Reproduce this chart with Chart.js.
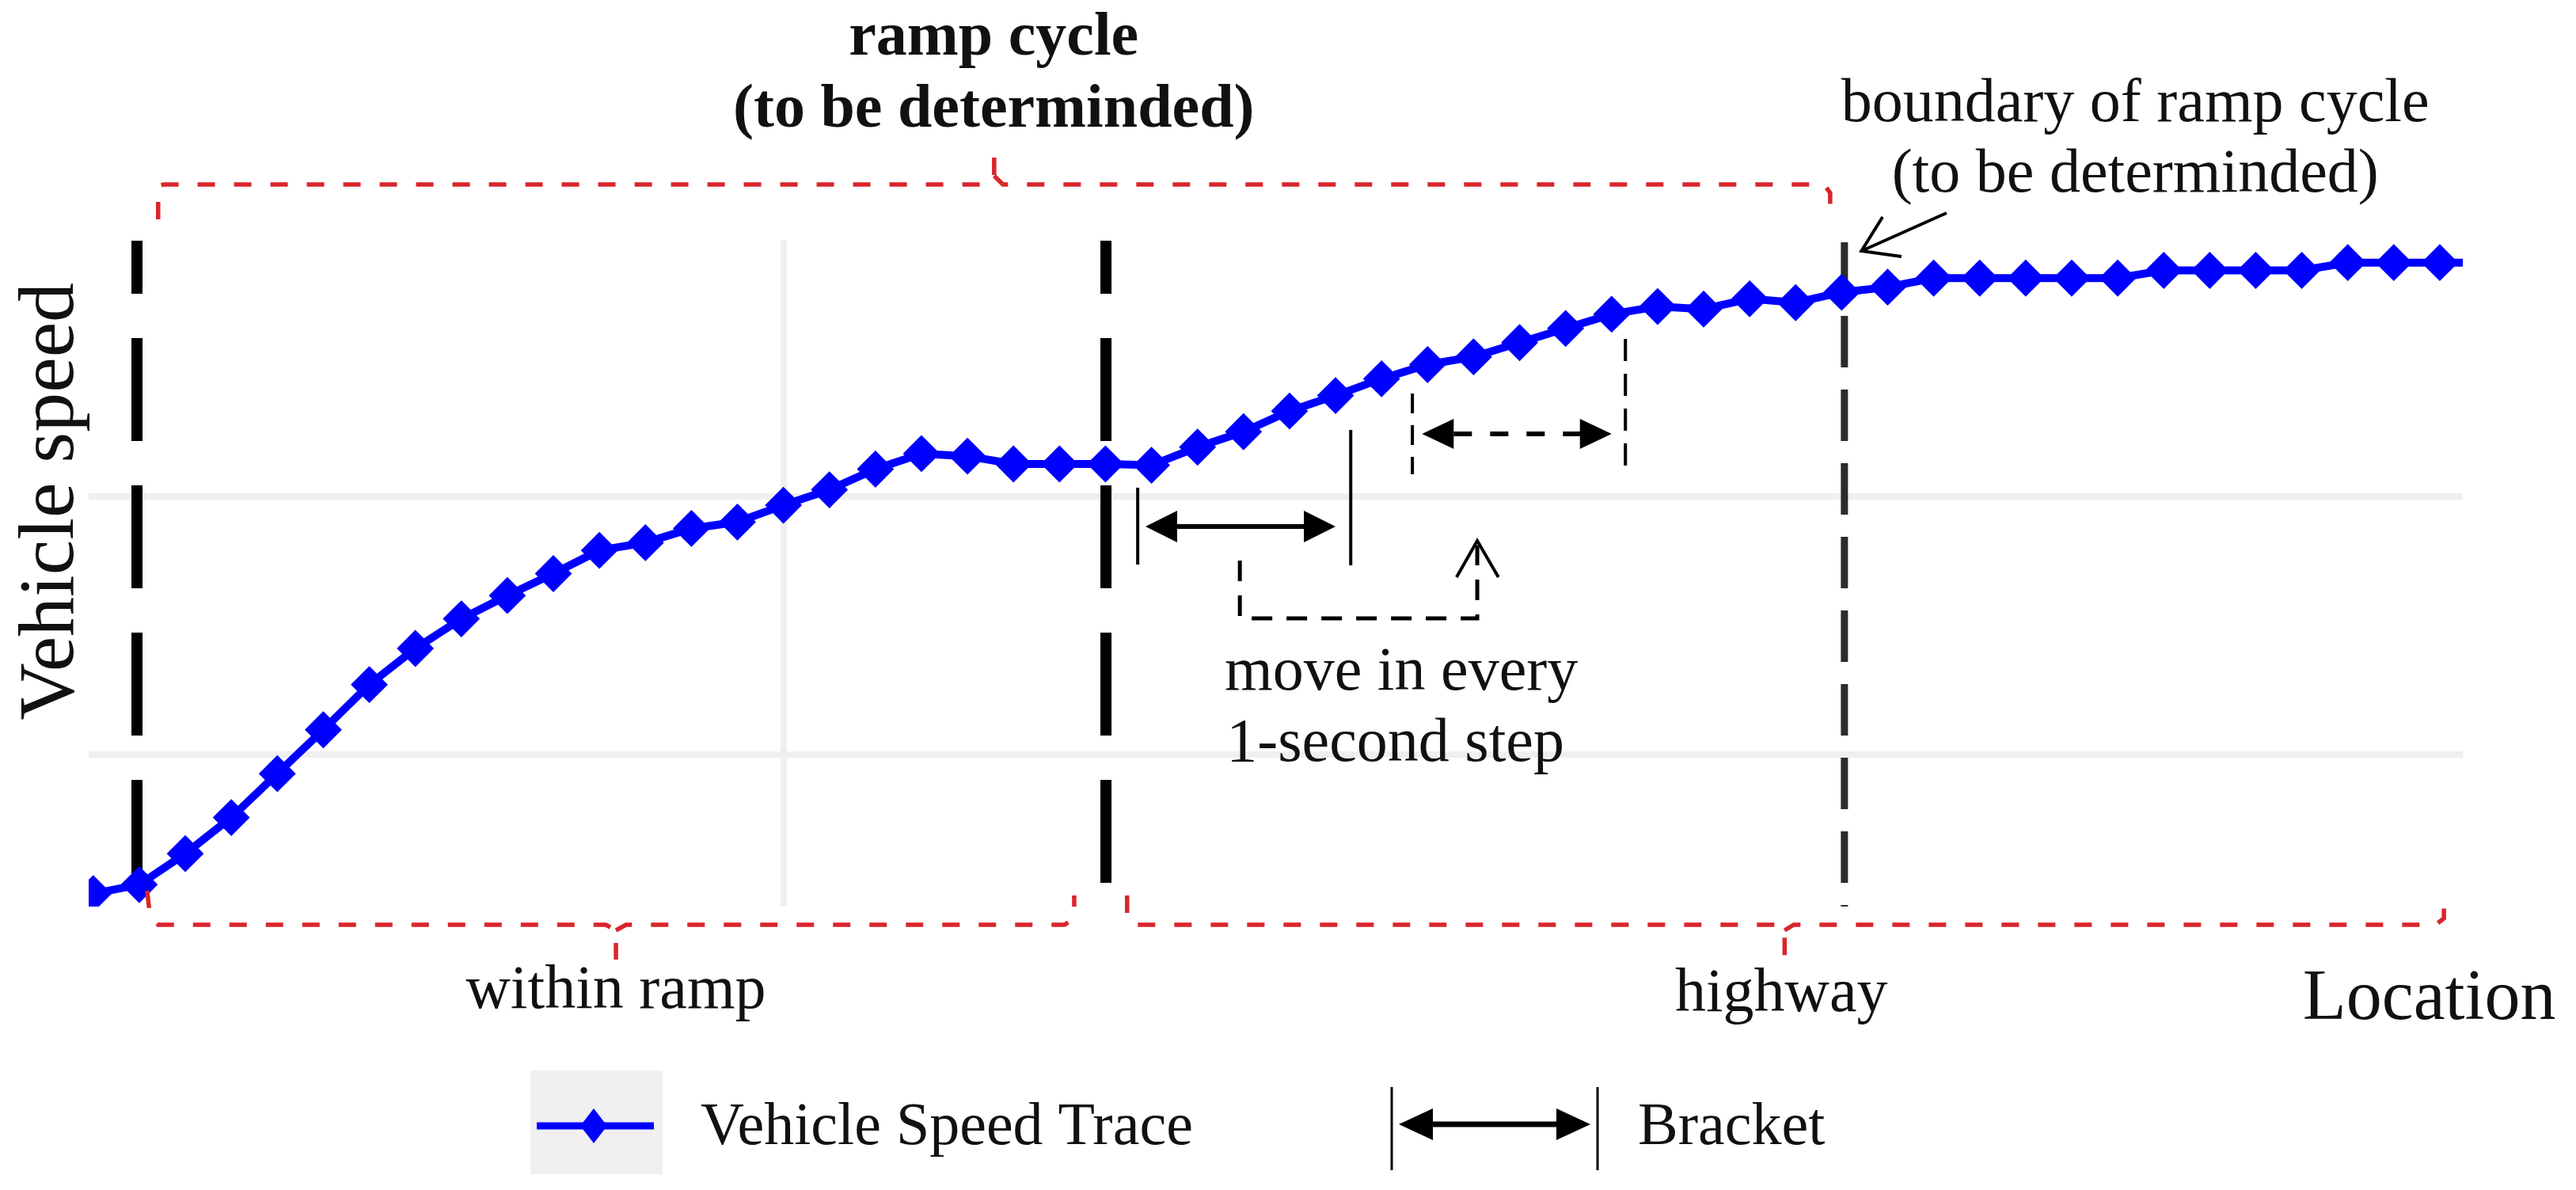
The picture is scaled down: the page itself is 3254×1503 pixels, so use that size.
<!DOCTYPE html>
<html>
<head>
<meta charset="utf-8">
<script src="https://cdn.jsdelivr.net/npm/chart.js@4.4.1/dist/chart.umd.min.js"></script>
<style>
html,body{margin:0;padding:0;background:#fff;}
#wrap{width:3254px;height:1503px;position:relative;}
</style>
</head>
<body>
<div id="wrap"><canvas id="c" width="3254" height="1503"></canvas></div>
<script>
// ---- data (location index = 1-second steps) ----
const locations = [0,1,2,3,4,5,6,7,8,9,10,11,12,13,14,15,16,17,18,19,20,21,22,23,24,25,26,27,28,29,30,31,32,33,34,35,36,37,38,39,40,41,42,43,44,45,46,47,48,49,50,51,52];
const speeds = [9.2,9.9,12.3,15.1,18.5,21.9,25.4,28.2,30.5,32.3,34.0,35.8,36.4,37.5,38.0,39.3,40.5,42.1,43.3,43.1,42.5,42.5,42.5,42.4,43.8,45.0,46.6,47.8,49.1,50.2,50.8,51.9,53.0,54.1,54.7,54.5,55.3,55.0,55.8,56.2,56.9,56.9,56.9,56.9,56.9,57.5,57.5,57.5,57.5,58.1,58.1,58.1,58.1];
const xGridValues = [15];
const yGridValues = [20, 40];
const seriesLabel = 'Vehicle Speed Trace';
const bracketLabel = 'Bracket';
const xAxisTitle = 'Location';
const yAxisTitle = 'Vehicle speed';
// boundaries (location) of the ramp cycle
const boundaryStart = 0.95, boundaryMid = 22.01, boundaryEnd = 38.06;

const SERIF = '"Liberation Serif", "Times New Roman", serif';

function poly(ctx, pts, X, Y) {
  ctx.beginPath();
  pts.forEach((p, i) => { const px = X(p[0]), py = Y(p[1]); if (i === 0) ctx.moveTo(px, py); else ctx.lineTo(px, py); });
  ctx.stroke();
}
function head(ctx, tx, ty, dir, len, half) {
  ctx.beginPath();
  ctx.moveTo(tx, ty);
  ctx.lineTo(tx - dir * len, ty - half);
  ctx.lineTo(tx - dir * len, ty + half);
  ctx.closePath();
  ctx.fill();
}

const annot = {
  id: 'annot',
  beforeDatasetsDraw(chart) {
    const ctx = chart.ctx, xs = chart.scales.x, ys = chart.scales.y;
    const X = v => xs.getPixelForValue(v), Y = v => ys.getPixelForValue(v);
    const top = chart.chartArea.top, bot = chart.chartArea.bottom;
    ctx.save();
    ctx.lineCap = 'butt';
    ctx.strokeStyle = '#000';
    ctx.lineWidth = 14;
    ctx.setLineDash([130, 56]);
    ctx.lineDashOffset = 63;
    [boundaryStart, boundaryMid].forEach(b => {
      ctx.beginPath(); ctx.moveTo(X(b), top); ctx.lineTo(X(b), bot); ctx.stroke();
    });
    ctx.strokeStyle = '#2b2b2b';
    ctx.lineWidth = 9;
    ctx.setLineDash([65, 28]);
    ctx.lineDashOffset = 0;
    ctx.beginPath(); ctx.moveTo(X(boundaryEnd), Y(59.68)); ctx.lineTo(X(boundaryEnd), bot); ctx.stroke();
    ctx.restore();
  },
  afterDraw(chart) {
    const ctx = chart.ctx, xs = chart.scales.x, ys = chart.scales.y;
    const X = v => xs.getPixelForValue(v), Y = v => ys.getPixelForValue(v);
    ctx.save();
    // ---- red dashed braces ----
    ctx.strokeStyle = '#d9252b';
    ctx.lineWidth = 5.5;
    ctx.setLineDash([22, 24]);
    ctx.lineJoin = 'miter';
    poly(ctx, [[1.41,61.46],[1.41,64.03],[1.53,64.16],[19.40,64.16],[19.58,64.83],[19.58,67.04]], X, Y);
    poly(ctx, [[19.58,64.83],[19.77,64.16],[37.62,64.16],[37.75,63.5],[37.75,61.76]], X, Y);
    poly(ctx, [[1.17,9.43],[1.24,7.28],[1.41,6.79],[11.14,6.79],[11.36,6.36],[11.36,4.09]], X, Y);
    poly(ctx, [[11.36,6.36],[11.58,6.79],[21.11,6.79],[21.32,7.28],[21.32,9.06]], X, Y);
    poly(ctx, [[22.47,9.06],[22.47,7.28],[22.6,6.79],[36.55,6.79],[36.76,6.36],[36.76,4.03]], X, Y);
    poly(ctx, [[36.76,6.36],[36.96,6.79],[50.91,6.79],[51.09,7.28],[51.09,9.3]], X, Y);

    // ---- solid bracket ----
    ctx.setLineDash([]);
    ctx.strokeStyle = '#000'; ctx.fillStyle = '#000';
    ctx.lineWidth = 4;
    poly(ctx, [[22.70,40.66],[22.70,34.70]], X, Y);
    poly(ctx, [[27.33,45.14],[27.33,34.64]], X, Y);
    ctx.lineWidth = 6;
    ctx.beginPath(); ctx.moveTo(X(22.87) + 30, Y(37.65)); ctx.lineTo(X(27.00) - 30, Y(37.65)); ctx.stroke();
    head(ctx, X(22.87), Y(37.65), -1, 40, 20);
    head(ctx, X(27.00), Y(37.65), 1, 40, 20);

    // ---- dashed bracket ----
    ctx.lineWidth = 4;
    ctx.setLineDash([25, 15]);
    poly(ctx, [[28.67,47.96],[28.67,41.70]], X, Y);
    ctx.setLineDash([28, 16]);
    poly(ctx, [[33.30,52.19],[33.30,42.01]], X, Y);
    ctx.lineWidth = 6;
    ctx.setLineDash([23, 23]);
    ctx.beginPath(); ctx.moveTo(X(28.88) + 40, Y(44.83)); ctx.lineTo(X(33.00) - 38, Y(44.83)); ctx.stroke();
    ctx.setLineDash([]);
    head(ctx, X(28.88), Y(44.83), -1, 40, 19);
    head(ctx, X(33.00), Y(44.83), 1, 40, 19);

    // ---- "move" dashed path with open arrow ----
    ctx.lineWidth = 5;
    ctx.setLineDash([26, 18]);
    poly(ctx, [[24.92,35.01],[24.92,30.53],[30.08,30.53],[30.08,36.2]], X, Y);
    ctx.setLineDash([]);
    ctx.lineWidth = 4;
    poly(ctx, [[29.63,33.72],[30.08,36.55],[30.54,33.72]], X, Y);

    // ---- arrow to boundary ----
    ctx.lineWidth = 4;
    poly(ctx, [[40.28,61.95],[38.43,59.0]], X, Y);
    poly(ctx, [[38.89,61.64],[38.43,59.0],[39.30,58.57]], X, Y);

    // ---- texts ----
    ctx.fillStyle = '#111';
    ctx.textBaseline = 'alphabetic';
    ctx.textAlign = 'center';
    ctx.font = 'bold 78px ' + SERIF;
    ctx.fillText('ramp cycle', X(19.57), Y(74.22));
    ctx.fillText('(to be determinded)', X(19.57), Y(68.64));
    ctx.font = '78px ' + SERIF;
    ctx.fillText('boundary of ramp cycle', X(44.38), Y(69.07));
    ctx.fillText('(to be determinded)', X(44.38), Y(63.6));
    ctx.fillText('move in every', X(28.43), Y(25.01));
    ctx.fillText('1-second step', X(28.3), Y(19.49));
    ctx.fillText('within ramp', X(11.36), Y(0.34));
    ctx.fillText('highway', X(36.69), Y(0.10));
    ctx.textAlign = 'left';
    ctx.font = '90px ' + SERIF;
    ctx.fillText(xAxisTitle, X(48.02), Y(-0.51));
    ctx.save();
    ctx.translate(X(-0.45), Y(39.6));
    ctx.rotate(-Math.PI / 2);
    ctx.textAlign = 'center';
    ctx.font = '100px ' + SERIF;
    ctx.fillText(yAxisTitle, 0, 0);
    ctx.restore();

    // ---- legend ----
    ctx.fillStyle = '#f0f0f0';
    ctx.fillRect(670, 1352, 167, 131);
    ctx.strokeStyle = '#0000ff'; ctx.lineWidth = 9;
    ctx.beginPath(); ctx.moveTo(678, 1422); ctx.lineTo(826, 1422); ctx.stroke();
    ctx.fillStyle = '#0000ff';
    ctx.beginPath(); ctx.moveTo(750, 1400); ctx.lineTo(767, 1422); ctx.lineTo(750, 1444); ctx.lineTo(733, 1422); ctx.closePath(); ctx.fill();
    ctx.fillStyle = '#111';
    ctx.font = '76px ' + SERIF;
    ctx.textAlign = 'left';
    ctx.fillText(seriesLabel, 885, 1445);
    ctx.strokeStyle = '#000'; ctx.fillStyle = '#000';
    ctx.lineWidth = 3;
    ctx.beginPath(); ctx.moveTo(1758, 1373); ctx.lineTo(1758, 1478); ctx.moveTo(2018, 1373); ctx.lineTo(2018, 1478); ctx.stroke();
    ctx.lineWidth = 7;
    ctx.beginPath(); ctx.moveTo(1800, 1420); ctx.lineTo(1975, 1420); ctx.stroke();
    head(ctx, 1767, 1420, -1, 43, 20);
    head(ctx, 2009, 1420, 1, 43, 20);
    ctx.fillStyle = '#111';
    ctx.fillText(bracketLabel, 2069, 1445);
    ctx.restore();
  }
};

const ctx = document.getElementById('c').getContext('2d');
new Chart(ctx, {
  type: 'line',
  data: {
    datasets: [{
      label: seriesLabel,
      data: locations.map((loc, i) => ({ x: loc, y: speeds[i] })),
      borderColor: '#0000ff',
      backgroundColor: '#0000ff',
      borderWidth: 10,
      pointStyle: 'rectRot',
      pointRadius: 22,
      pointBorderWidth: 2,
      pointBorderColor: '#0000ff',
      pointBackgroundColor: '#0000ff',
      tension: 0,
      clip: 0
    }]
  },
  options: {
    responsive: false,
    animation: false,
    devicePixelRatio: 1,
    layout: { padding: { left: 112, right: 143, top: 304, bottom: 358 }, autoPadding: false },
    plugins: { legend: { display: false }, tooltip: { enabled: false } },
    scales: {
      x: {
        type: 'linear', min: -0.1, max: 51.5,
        afterBuildTicks: s => { s.ticks = xGridValues.map(v => ({ value: v })); },
        ticks: { display: false },
        grid: { color: '#efefef', lineWidth: 8, drawTicks: false },
        border: { display: false }
      },
      y: {
        type: 'linear', min: 8.2, max: 59.8,
        afterBuildTicks: s => { s.ticks = yGridValues.map(v => ({ value: v })); },
        ticks: { display: false },
        grid: { color: '#efefef', lineWidth: 8, drawTicks: false },
        border: { display: false }
      }
    }
  },
  plugins: [annot]
});
</script>
</body>
</html>
